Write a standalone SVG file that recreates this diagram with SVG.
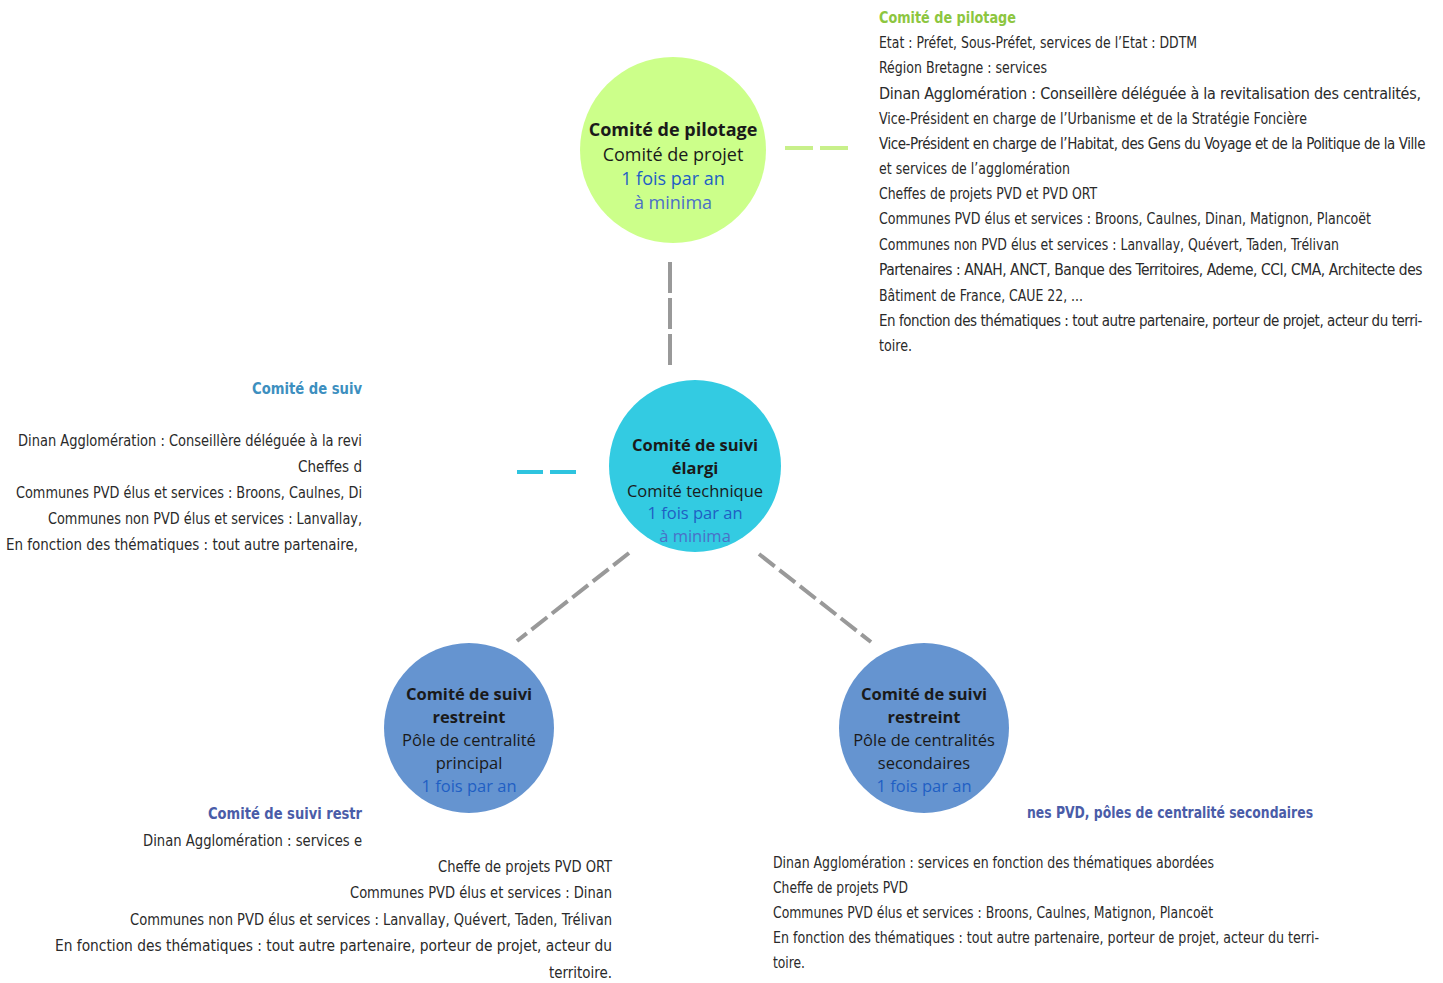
<svg xmlns="http://www.w3.org/2000/svg" width="1443" height="983" viewBox="0 0 1443 983">
<style>
.t{font-family:"DejaVu Sans Condensed","Liberation Sans Narrow","Liberation Sans",sans-serif;font-size:16px;fill:#2a2a2a;font-stretch:condensed}
.n{font-size:15.5px;letter-spacing:-0.45px}
.c{font-family:"Open Sans","Noto Sans",sans-serif;font-size:16.5px;text-anchor:middle;fill:#1a1a1a}
.g{font-size:18px}
.b{font-weight:bold}
.f{fill:#1f5fc4}
.m{fill:#4a70c8}
.h{font-weight:bold}
.dash{fill:none;stroke-width:4}
</style>
<rect width="1443" height="983" fill="#ffffff"/>
<g id="connectors">
<line class="dash" x1="785" y1="148" x2="849" y2="148" stroke="#c8f08a" stroke-dasharray="28,7"/>
<line class="dash" x1="670" y1="262" x2="670" y2="366" stroke="#999999" stroke-dasharray="31,5"/>
<line class="dash" x1="517" y1="472" x2="576" y2="472" stroke="#2ec4df" stroke-dasharray="26,7"/>
<line class="dash" x1="629" y1="553" x2="517" y2="641" stroke="#999999" stroke-dasharray="20,6"/>
<line class="dash" x1="759" y1="554" x2="871" y2="642" stroke="#999999" stroke-dasharray="20,6"/>
</g>
<g id="pilotage">
<circle cx="673" cy="150" r="93" fill="#ccff8a"/>
<text class="c g b" x="673" y="136">Comité de pilotage</text>
<text class="c g" x="673" y="161">Comité de projet</text>
<text class="c g f" x="673" y="185">1 fois par an</text>
<text class="c g m" x="673" y="209">à minima</text>
</g>
<g id="suivi-elargi">
<circle cx="695" cy="466" r="86" fill="#33cbe2"/>
<text class="c b" x="695" y="451">Comité de suivi</text>
<text class="c b" x="695" y="474">élargi</text>
<text class="c" x="695" y="497">Comité technique</text>
<text class="c f" x="695" y="519">1 fois par an</text>
<text class="c m" x="695" y="542">à minima</text>
</g>
<g id="suivi-principal">
<circle cx="469" cy="728" r="85" fill="#6594d0"/>
<text class="c b" x="469" y="700">Comité de suivi</text>
<text class="c b" x="469" y="723">restreint</text>
<text class="c" x="469" y="746">Pôle de centralité</text>
<text class="c" x="469" y="769">principal</text>
<text class="c f" x="469" y="792">1 fois par an</text>
</g>
<g id="suivi-secondaires">
<circle cx="924" cy="728" r="85" fill="#6594d0"/>
<text class="c b" x="924" y="700">Comité de suivi</text>
<text class="c b" x="924" y="723">restreint</text>
<text class="c" x="924" y="746">Pôle de centralités</text>
<text class="c" x="924" y="769">secondaires</text>
<text class="c f" x="924" y="792">1 fois par an</text>
</g>
<g id="texte-pilotage">
<text class="t h" x="879" y="23" style="fill:#8dc63f" textLength="137" lengthAdjust="spacingAndGlyphs">Comité de pilotage</text>
<text class="t" x="879" y="48" textLength="318" lengthAdjust="spacingAndGlyphs">Etat : Préfet, Sous-Préfet, services de l’Etat : DDTM</text>
<text class="t" x="879" y="73" textLength="168" lengthAdjust="spacingAndGlyphs">Région Bretagne : services</text>
<text class="t" x="879" y="99" textLength="542" lengthAdjust="spacing">Dinan Agglomération : Conseillère déléguée à la revitalisation des centralités,</text>
<text class="t" x="879" y="124" textLength="428" lengthAdjust="spacingAndGlyphs">Vice-Président en charge de l’Urbanisme et de la Stratégie Foncière</text>
<text class="t n" x="879" y="149" textLength="546" lengthAdjust="spacingAndGlyphs">Vice-Président en charge de l’Habitat, des Gens du Voyage et de la Politique de la Ville</text>
<text class="t" x="879" y="174" textLength="191" lengthAdjust="spacingAndGlyphs">et services de l’agglomération</text>
<text class="t" x="879" y="199" textLength="218" lengthAdjust="spacingAndGlyphs">Cheffes de projets PVD et PVD ORT</text>
<text class="t" x="879" y="224" textLength="492" lengthAdjust="spacingAndGlyphs">Communes PVD élus et services : Broons, Caulnes, Dinan, Matignon, Plancoët</text>
<text class="t" x="879" y="250" textLength="460" lengthAdjust="spacingAndGlyphs">Communes non PVD élus et services : Lanvallay, Quévert, Taden, Trélivan</text>
<text class="t n" x="879" y="275" textLength="543" lengthAdjust="spacingAndGlyphs">Partenaires : ANAH, ANCT, Banque des Territoires, Ademe, CCI, CMA, Architecte des</text>
<text class="t" x="879" y="301" textLength="204" lengthAdjust="spacingAndGlyphs">Bâtiment de France, CAUE 22, ...</text>
<text class="t n" x="879" y="326" textLength="543" lengthAdjust="spacingAndGlyphs">En fonction des thématiques : tout autre partenaire, porteur de projet, acteur du terri-</text>
<text class="t" x="879" y="351" textLength="33" lengthAdjust="spacingAndGlyphs">toire.</text>
</g>
<g id="texte-elargi">
<text class="t h" x="252" y="394" style="fill:#3d8fbf" textLength="110" lengthAdjust="spacingAndGlyphs">Comité de suiv</text>
<text class="t" x="18" y="446" textLength="344" lengthAdjust="spacingAndGlyphs">Dinan Agglomération : Conseillère déléguée à la revi</text>
<text class="t" x="298" y="472" textLength="64" lengthAdjust="spacingAndGlyphs">Cheffes d</text>
<text class="t" x="16" y="498" textLength="346" lengthAdjust="spacingAndGlyphs">Communes PVD élus et services : Broons, Caulnes, Di</text>
<text class="t" x="48" y="524" textLength="314" lengthAdjust="spacingAndGlyphs">Communes non PVD élus et services : Lanvallay,</text>
<text class="t" x="6" y="550" textLength="352" lengthAdjust="spacingAndGlyphs">En fonction des thématiques : tout autre partenaire,</text>
</g>
<g id="texte-principal">
<text class="t h" x="208" y="819" style="fill:#4a5ca8" textLength="154" lengthAdjust="spacingAndGlyphs">Comité de suivi restr</text>
<text class="t" x="143" y="846" textLength="219" lengthAdjust="spacingAndGlyphs">Dinan Agglomération : services e</text>
<text class="t" x="438" y="872" textLength="174" lengthAdjust="spacingAndGlyphs">Cheffe de projets PVD ORT</text>
<text class="t" x="350" y="898" textLength="262" lengthAdjust="spacingAndGlyphs">Communes PVD élus et services : Dinan</text>
<text class="t" x="130" y="925" textLength="482" lengthAdjust="spacingAndGlyphs">Communes non PVD élus et services : Lanvallay, Quévert, Taden, Trélivan</text>
<text class="t" x="55" y="951" textLength="557" lengthAdjust="spacingAndGlyphs">En fonction des thématiques : tout autre partenaire, porteur de projet, acteur du</text>
<text class="t" x="549" y="978" textLength="63" lengthAdjust="spacingAndGlyphs">territoire.</text>
</g>
<g id="texte-secondaires">
<text class="t h" x="1027" y="818" style="fill:#4a5ca8" textLength="286" lengthAdjust="spacingAndGlyphs">nes PVD, pôles de centralité secondaires</text>
<text class="t" x="773" y="868" textLength="441" lengthAdjust="spacingAndGlyphs">Dinan Agglomération : services en fonction des thématiques abordées</text>
<text class="t" x="773" y="893" textLength="135" lengthAdjust="spacingAndGlyphs">Cheffe de projets PVD</text>
<text class="t" x="773" y="918" textLength="440" lengthAdjust="spacingAndGlyphs">Communes PVD élus et services : Broons, Caulnes, Matignon, Plancoët</text>
<text class="t" x="773" y="943" textLength="546" lengthAdjust="spacingAndGlyphs">En fonction des thématiques : tout autre partenaire, porteur de projet, acteur du terri-</text>
<text class="t" x="773" y="968" textLength="32" lengthAdjust="spacingAndGlyphs">toire.</text>
</g>
</svg>
